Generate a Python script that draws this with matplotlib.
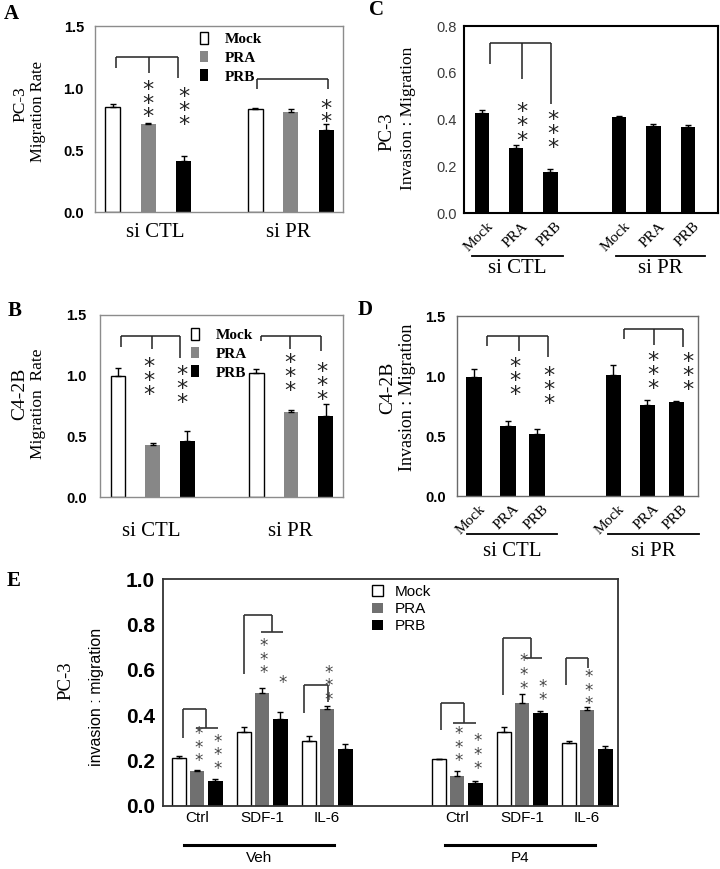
import matplotlib
matplotlib.use('Agg')
import matplotlib.pyplot as plt
from matplotlib.lines import Line2D
from matplotlib.transforms import blended_transform_factory
import numpy as np

W, H, DPI = 720, 869, 100
SERIF = ['Liberation Serif', 'DejaVu Serif']
SANS = ['Liberation Sans', 'DejaVu Sans']

# ---------------- data ----------------
series_names = ['Mock', 'PRA', 'PRB']
si_groups = ['si CTL', 'si PR']

# Panel A  (PC-3 migration rate)
a_mock = [0.85, 0.83]
a_mock_err = [0.02, 0.01]
a_pra = [0.71, 0.81]
a_pra_err = [0.01, 0.02]
a_prb = [0.41, 0.66]
a_prb_err = [0.045, 0.05]
a_sig = ['', '***', '***', '', '', '**']

# Panel B  (C4-2B migration rate)
b_mock = [1.00, 1.02]
b_mock_err = [0.065, 0.035]
b_pra = [0.43, 0.70]
b_pra_err = [0.02, 0.015]
b_prb = [0.46, 0.67]
b_prb_err = [0.085, 0.10]
b_sig = ['', '***', '***', '', '***', '***']

# Panel C  (PC-3 invasion : migration)
c_mock = [0.43, 0.412]
c_mock_err = [0.012, 0.005]
c_pra = [0.281, 0.375]
c_pra_err = [0.01, 0.007]
c_prb = [0.175, 0.367]
c_prb_err = [0.016, 0.011]
c_sig = ['', '***', '***', '', '', '']

# Panel D  (C4-2B invasion : migration)
d_mock = [0.995, 1.005]
d_mock_err = [0.06, 0.085]
d_pra = [0.583, 0.758]
d_pra_err = [0.045, 0.04]
d_prb = [0.514, 0.78]
d_prb_err = [0.045, 0.01]
d_sig = ['', '***', '***', '', '***', '***']

# Panel E  (PC-3 invasion : migration, Veh / P4)
e_treat = ['Veh', 'P4']
e_stim = ['Ctrl', 'SDF-1', 'IL-6']
e_mock = [0.21, 0.325, 0.285, 0.205, 0.327, 0.276]
e_mock_err = [0.01, 0.022, 0.022, 0.003, 0.022, 0.01]
e_pra = [0.152, 0.499, 0.426, 0.133, 0.452, 0.423]
e_pra_err = [0.005, 0.022, 0.013, 0.02, 0.04, 0.014]
e_prb = [0.109, 0.383, 0.25, 0.099, 0.411, 0.249]
e_prb_err = [0.01, 0.032, 0.022, 0.012, 0.007, 0.013]
e_sig_pra = ['***', '***', '***', '***', '***', '***']
e_sig_prb = ['***', '*', '', '***', '**', '']

fig = plt.figure(figsize=(W / DPI, H / DPI), dpi=DPI)


def add_axes(x0, y0, x1, y1):
    return fig.add_axes([x0 / W, 1 - y1 / H, (x1 - x0) / W, (y1 - y0) / H])


def ftext(x, y, s, **kw):
    fig.text(x / W, 1 - y / H, s, **kw)


def style(ax, ylim, xlim, yticks, tick_kw, pad, spine_color, spine_lw):
    ax.set_ylim(*ylim)
    ax.set_xlim(*xlim)
    ax.set_yticks(yticks)
    ax.set_yticklabels([f'{t:.1f}' for t in yticks], **tick_kw)
    ax.set_xticks([])
    ax.tick_params(axis='y', length=0, pad=pad)
    for s in ax.spines.values():
        s.set_color(spine_color)
        s.set_linewidth(spine_lw)


def bars(ax, pos, vals, errs, width, color, edge, lw=0.0, capsize=2.5, elw=1.0, label=None):
    c = ax.bar(pos, vals, width, color=color, edgecolor=edge, linewidth=lw, zorder=2, label=label)
    ax.errorbar(pos, vals, yerr=[np.zeros(len(errs)), errs], fmt='none', ecolor='black',
                elinewidth=elw, capsize=capsize, capthick=elw, zorder=3)
    return c


def bracket(ax, xs, ytop, yends, color='#222222', lw=1.1):
    ax.plot([min(xs), max(xs)], [ytop, ytop], color=color, lw=lw, clip_on=False, zorder=4,
            solid_capstyle='butt')
    for x, ye in zip(xs, yends):
        ax.plot([x, x], [ytop, ye], color=color, lw=lw, clip_on=False, zorder=4,
                solid_capstyle='butt')


def stars(ax, x, y, s, fs, step_px, color='#222222'):
    """Vertical stack of asterisks; y = centre of the lowest star (data units)."""
    em_px = fs * DPI / 72.0
    ls = step_px / (0.76 * em_px)
    ax.annotate('\n'.join(s), xy=(x, y), xytext=(0, -0.81 * fs), textcoords='offset points',
                ha='center', va='bottom', fontsize=fs, color=color, linespacing=ls,
                family=['DejaVu Sans'], annotation_clip=False)


def group_label(ax, xc, text, dy, fs, family):
    ax.annotate(text, xy=(xc, 0), xycoords=('data', 'axes fraction'), xytext=(0, -dy),
                textcoords='offset points', ha='center', va='center', fontsize=fs, family=family,
                annotation_clip=False)


def underline(ax, x0, x1, yfrac, lw):
    tr = blended_transform_factory(ax.transData, ax.transAxes)
    ax.add_line(Line2D([x0, x1], [yfrac, yfrac], transform=tr, color='black', lw=lw, clip_on=False))


def rot_labels(ax, pos, labels, fs):
    for p, lab in zip(pos, labels):
        ax.annotate(lab, xy=(p, 0), xycoords=('data', 'axes fraction'), xytext=(3.5, -4.5),
                    textcoords='offset points', ha='right', va='top', rotation=45,
                    rotation_mode='anchor', fontsize=fs, family=SERIF, annotation_clip=False)


bold_sans = dict(family=SANS, fontweight='bold')
LIGHT_GRAY = '#878787'
STAR_FS = 16
ROT_FS = 11

# ---------------- Panel A ----------------
axA = add_axes(95, 26, 343, 212)
posA = np.array([0, 4])
wA = 0.42
hA = [bars(axA, posA + 0, a_mock, a_mock_err, wA, 'white', 'black', 1.0, label='Mock'),
      bars(axA, posA + 1, a_pra, a_pra_err, wA, LIGHT_GRAY, LIGHT_GRAY, 0, label='PRA'),
      bars(axA, posA + 2, a_prb, a_prb_err, wA, 'black', 'black', 0, label='PRB')]
style(axA, (0, 1.5), (-0.5, 6.47), [0.0, 0.5, 1.0, 1.5], dict(fontsize=10.5, **bold_sans),
      8.0, '#8c8c8c', 1.0)
bracket(axA, [0.1, 1.01, 1.82], 1.247, [1.165, 1.125, 1.08])
bracket(axA, [4.06, 6.05], 1.076, [0.995, 0.995])
allposA = [0, 1, 2, 4, 5, 6]
starA_y = [0, 0.827, 0.768, 0, 0, 0.787]
for p, s, y in zip(allposA, a_sig, starA_y):
    if s:
        stars(axA, p, y, s, STAR_FS, 10.2)
for xc, g in zip([1.18, 4.94], si_groups):
    group_label(axA, xc, g, 15.1, 15, SERIF)
axA.legend(handles=hA, loc='upper left', bbox_to_anchor=(0.423, 0.968), frameon=False,
           borderaxespad=0, borderpad=0, handlelength=0.5, handleheight=0.8,
           handletextpad=1.1, labelspacing=0.3,
           prop=dict(family=SERIF, weight='bold', size=11))
ftext(20.5, 104, 'PC-3', rotation=90, ha='center', va='center', fontsize=12.5, family=SERIF)
ftext(37.5, 112, 'Migration Rate', rotation=90, ha='center', va='center', fontsize=12, family=SERIF)
ftext(11.5, 14, 'A', ha='center', va='center', fontsize=15, fontweight='bold', family=SERIF)

# ---------------- Panel B ----------------
axB = add_axes(100, 315, 343, 497.3)
hB = [bars(axB, posA + 0, b_mock, b_mock_err, wA, 'white', 'black', 1.0, label='Mock'),
      bars(axB, posA + 1, b_pra, b_pra_err, wA, LIGHT_GRAY, LIGHT_GRAY, 0, label='PRA'),
      bars(axB, posA + 2, b_prb, b_prb_err, wA, 'black', 'black', 0, label='PRB')]
style(axB, (0, 1.5), (-0.52, 6.5), [0.0, 0.5, 1.0, 1.5], dict(fontsize=10.5, **bold_sans),
      9.5, '#8c8c8c', 1.0)
bracket(axB, [0.08, 0.99, 1.8], 1.328, [1.235, 1.218, 1.144])
bracket(axB, [4.12, 4.97, 5.87], 1.328, [1.289, 1.218, 1.207])
starB_x = [0, 0.9, 1.85, 4, 4.97, 5.9]
starB_y = [0, 0.91, 0.842, 0, 0.941, 0.869]
for p, s, y in zip(starB_x, b_sig, starB_y):
    if s:
        stars(axB, p, y, s, STAR_FS, 10.5)
for xc, g in zip([0.95, 4.97], si_groups):
    group_label(axB, xc, g, 24.5, 15, SERIF)
axB.legend(handles=hB, loc='upper left', bbox_to_anchor=(0.374, 0.929), frameon=False,
           borderaxespad=0, borderpad=0, handlelength=0.5, handleheight=0.8,
           handletextpad=1.1, labelspacing=0.3,
           prop=dict(family=SERIF, weight='bold', size=11))
ftext(19.5, 394, 'C4-2B', rotation=90, ha='center', va='center', fontsize=14, family=SERIF)
ftext(38.5, 404, 'Migration  Rate', rotation=90, ha='center', va='center', fontsize=12.5, family=SERIF)
ftext(14.5, 310.5, 'B', ha='center', va='center', fontsize=15, fontweight='bold', family=SERIF)

# ---------------- Panel C ----------------
axC = add_axes(464, 26, 718, 213.3)
wC = 0.41
bars(axC, posA + 0, c_mock, c_mock_err, wC, 'black', 'black', 0)
bars(axC, posA + 1, c_pra, c_pra_err, wC, 'black', 'black', 0)
bars(axC, posA + 2, c_prb, c_prb_err, wC, 'black', 'black', 0)
style(axC, (0, 0.8), (-0.52, 6.88), [0.0, 0.2, 0.4, 0.6, 0.8],
      dict(fontsize=10.5, family=SANS, color='#3a3a3a'), 5, 'black', 1.5)
bracket(axC, [0.23, 1.17, 2.01], 0.727, [0.639, 0.575, 0.466])
starC_x = [0, 1.17, 2.07, 4, 5, 6]
starC_y = [0, 0.345, 0.311, 0, 0, 0]
for p, s, y in zip(starC_x, c_sig, starC_y):
    if s:
        stars(axC, p, y, s, STAR_FS, 11)
rot_labels(axC, allposA, series_names * 2, ROT_FS)
underline(axC, -0.29, 2.36, -0.226, 1.3)
underline(axC, 3.9, 6.5, -0.226, 1.3)
for (x0, x1), g in zip([(-0.29, 2.36), (3.9, 6.5)], si_groups):
    axC.annotate(g, xy=((x0 + x1) / 2, -0.297), xycoords=('data', 'axes fraction'),
                 ha='center', va='center', fontsize=15, family=SERIF, annotation_clip=False)
ftext(387, 132, 'PC-3', rotation=90, ha='center', va='center', fontsize=13.5, family=SERIF)
ftext(408.5, 118.5, 'Invasion : Migration', rotation=90, ha='center', va='center', fontsize=12.5,
      family=SERIF)
ftext(376.5, 10, 'C', ha='center', va='center', fontsize=15, fontweight='bold', family=SERIF)

# ---------------- Panel D ----------------
axD = add_axes(456.7, 316, 698, 496)
in_group = np.array([0, 1, 1.85])
grp_start = np.array([0, 4.1])
wD = 0.45
posD = [grp_start + o for o in in_group]
bars(axD, posD[0], d_mock, d_mock_err, wD, 'black', 'black', 0)
bars(axD, posD[1], d_pra, d_pra_err, wD, 'black', 'black', 0)
bars(axD, posD[2], d_prb, d_prb_err, wD, 'black', 'black', 0)
style(axD, (0, 1.5), (-0.51, 6.59), [0.0, 0.5, 1.0, 1.5], dict(fontsize=10.5, **bold_sans),
      8.0, '#6a6a6a', 1.0)
bracket(axD, [0.37, 1.32, 2.19], 1.336, [1.253, 1.21, 1.16])
bracket(axD, [4.42, 5.29, 6.16], 1.39, [1.308, 1.258, 1.244])
allposD = [g + o for g in grp_start for o in in_group]
starD_x = [0, 1.21, 2.2, 4.1, 5.26, 6.29]
starD_y = [0, 0.906, 0.833, 0, 0.958, 0.948]
for p, s, y in zip(starD_x, d_sig, starD_y):
    if s:
        stars(axD, p, y, s, STAR_FS, 10.5)
rot_labels(axD, allposD, series_names * 2, ROT_FS)
underline(axD, -0.21, 2.44, -0.211, 1.3)
underline(axD, 3.94, 6.62, -0.211, 1.3)
for (x0, x1), g in zip([(-0.21, 2.44), (3.94, 6.62)], si_groups):
    axD.annotate(g, xy=((x0 + x1) / 2, -0.311), xycoords=('data', 'axes fraction'),
                 ha='center', va='center', fontsize=15, family=SERIF, annotation_clip=False)
ftext(387.5, 388, 'C4-2B', rotation=90, ha='center', va='center', fontsize=14, family=SERIF)
ftext(407, 397, 'Invasion : Migration', rotation=90, ha='center', va='center', fontsize=13,
      family=SERIF)
ftext(365, 310, 'D', ha='center', va='center', fontsize=15, fontweight='bold', family=SERIF)

# ---------------- Panel E ----------------
axE = add_axes(163.3, 579.3, 618.3, 805.7)
gE = np.array([0, 1, 2, 4, 5, 6])
offE = 0.283
wE = 0.22
DARK_GRAY = '#707070'
hE = [bars(axE, gE - offE, e_mock, e_mock_err, wE, 'white', 'black', 1.0, capsize=2.5, label='Mock'),
      bars(axE, gE, e_pra, e_pra_err, wE, DARK_GRAY, DARK_GRAY, 0, capsize=2.5, label='PRA'),
      bars(axE, gE + offE, e_prb, e_prb_err, wE, 'black', 'black', 0, capsize=2.5, label='PRB')]
style(axE, (0, 1.0), (-0.52, 6.48), [0.0, 0.2, 0.4, 0.6, 0.8, 1.0],
      dict(fontsize=15, **bold_sans), 6, '#333333', 1.3)
# brackets: (left x, left bottom, top, right x, right bottom, line2 x0, line2 x1)
e_brackets = [(-0.22, 0.298, 0.426, 0.14, 0.342, -0.015, 0.318),
              (0.728, 0.582, 0.842, 1.149, 0.766, 0.985, 1.318),
              (1.646, 0.411, 0.533, 2.01, 0.459, None, None),
              (3.75, 0.334, 0.455, 4.10, 0.364, 3.94, 4.29),
              (4.70, 0.489, 0.742, 5.13, 0.651, 5.04, 5.31),
              (5.67, 0.533, 0.654, 6.02, 0.61, None, None)]
for lx, lb, top, rx, rb, l0, l1 in e_brackets:
    bracket(axE, [lx, rx], top, [lb, rb], color='#333333', lw=1.2)
    if l0 is not None:
        axE.plot([l0, l1], [rb, rb], color='#333333', lw=1.2, solid_capstyle='butt')
starE_pra_y = [0.216, 0.604, 0.486, 0.216, 0.536, 0.467]
starE_prb_y = [0.182, 0.563, 0, 0.183, 0.485, 0]
for g, s, y in zip(gE, e_sig_pra, starE_pra_y):
    if s:
        stars(axE, g + 0.02, y, s, 12, 8.8, color='#444444')
for g, s, y in zip(gE, e_sig_prb, starE_prb_y):
    if s:
        stars(axE, g + offE + 0.03, y, s, 12, 8.8, color='#444444')
for g, lab in zip(gE, e_stim * 2):
    axE.annotate(lab, xy=(g, 0), xycoords=('data', 'axes fraction'), xytext=(0, -9.1),
                 textcoords='offset points', ha='center', va='center', fontsize=11,
                 family=SANS, annotation_clip=False)
e_lines = [(-0.195, 2.11), (3.815, 6.12)]
for (x0, x1), t in zip(e_lines, e_treat):
    underline(axE, x0, x1, -0.172, 2.2)
    axE.annotate(t, xy=((x0 + x1) / 2, -0.232), xycoords=('data', 'axes fraction'),
                 ha='center', va='center', fontsize=11, family=SANS, annotation_clip=False)
axE.legend(handles=hE, loc='upper left', bbox_to_anchor=(0.459, 0.975), frameon=False,
           borderaxespad=0, borderpad=0, handlelength=0.7, handleheight=0.65,
           handletextpad=0.75, labelspacing=0.2, prop=dict(family=SANS, size=11))
ftext(66, 681, 'PC-3', rotation=90, ha='center', va='center', fontsize=13.5, family=SERIF)
ftext(97, 697, 'invasion : migration', rotation=90, ha='center', va='center', fontsize=11.5,
      family=SANS)
ftext(13.5, 580.5, 'E', ha='center', va='center', fontsize=15, fontweight='bold', family=SERIF)

fig.savefig('out.png', dpi=DPI)
